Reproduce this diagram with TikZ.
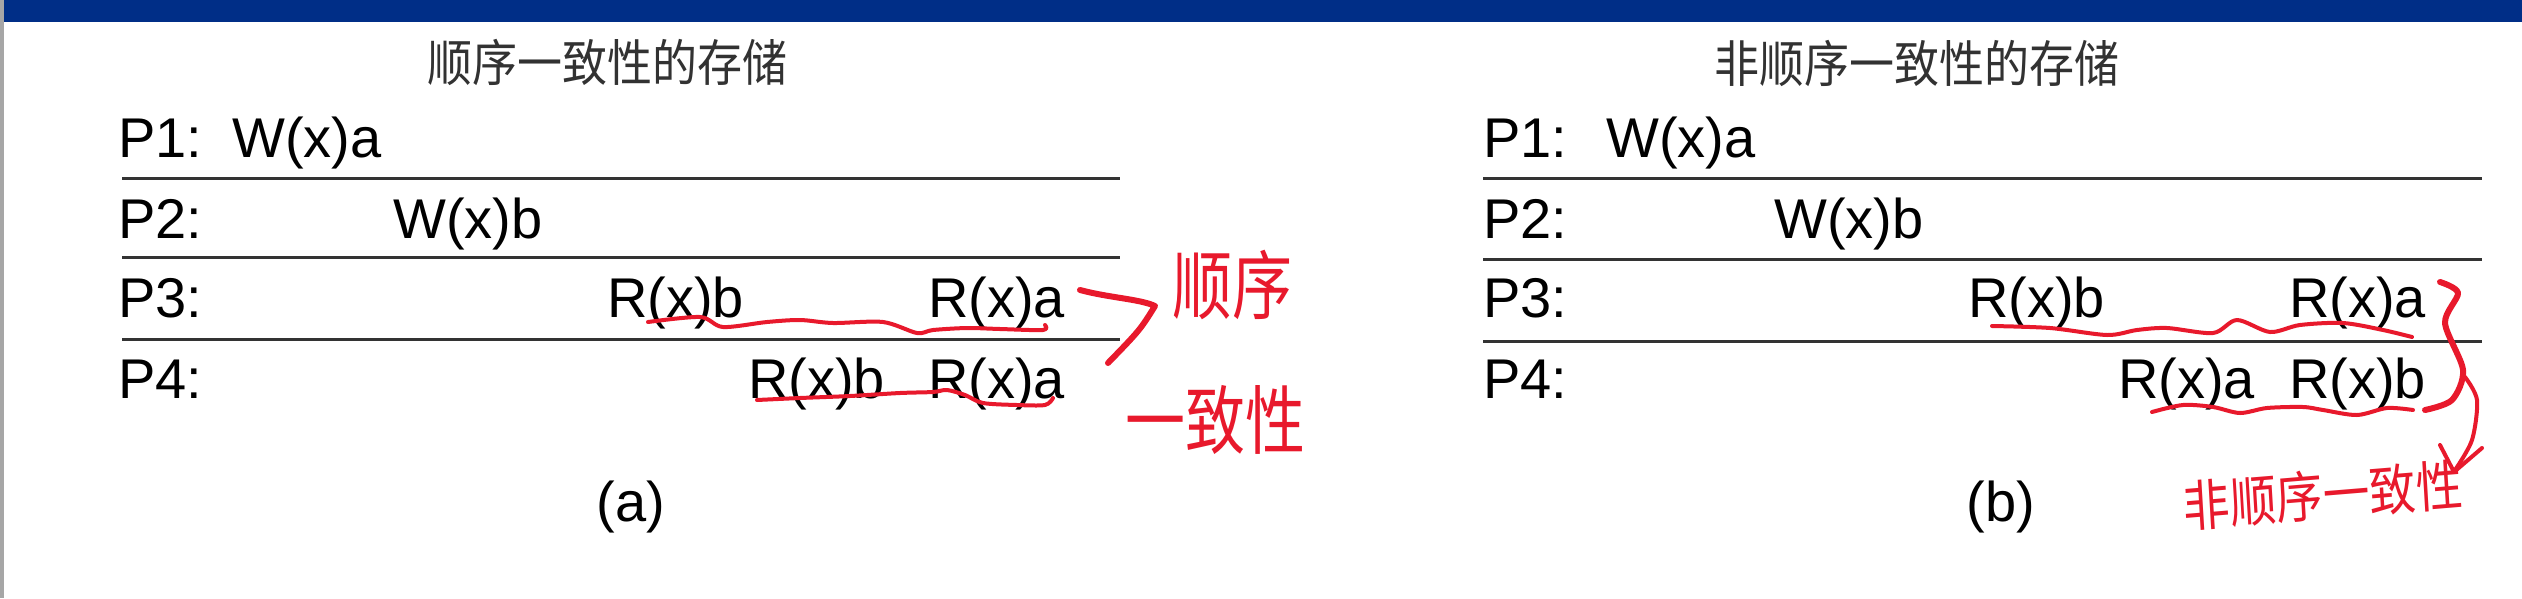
\documentclass[tikz,border=0pt]{standalone}
\usepackage{fontspec}
\setmainfont{Liberation Sans}
\newfontfamily\cjk{Noto Sans CJK SC}
\definecolor{barblue}{RGB}{0,46,135}
\definecolor{pen}{RGB}{232,25,44}
\definecolor{ink}{RGB}{50,50,50}
\begin{document}
\begin{tikzpicture}[x=1pt,y=-1pt,
  lbl/.style={inner sep=0pt,anchor=base west,font=\fontsize{56}{60}\selectfont},
  sepline/.style={line width=3pt,draw=black!80},
  titletext/.style={inner sep=0pt,text=ink,font=\cjk\fontsize{50}{56}\selectfont,xscale=0.9},
  penline/.style={draw=pen,line width=4pt,line cap=round,line join=round},
  penthick/.style={draw=pen,line width=6pt,line cap=round,line join=round},
  pentext/.style={inner sep=0pt,text=pen,font=\cjk\fontsize{75}{80}\selectfont,xscale=0.8}]
\useasboundingbox (0,0) rectangle (2522,598);
\fill[white] (0,0) rectangle (2522,598);
\fill[gray!70] (0,0) rectangle (4,598);
\fill[barblue] (4,0) rectangle (2522,22);

% ---------- panel (a) ----------
\node[titletext] (ta) at (607,62) {顺序一致性的存储};
\node[lbl] (p1a) at (118,157) {P1:};
\node[lbl] (w1a) at (232,157) {W(x)a};
\node[lbl] (p2a) at (118,238) {P2:};
\node[lbl] (w2a) at (393,238) {W(x)b};
\node[lbl] (p3a) at (118,317) {P3:};
\node[lbl] (r3ba) at (607,317) {R(x)b};
\node[lbl] (r3aa) at (928,317) {R(x)a};
\node[lbl] (p4a) at (118,398) {P4:};
\node[lbl] (r4ba) at (748,398) {R(x)b};
\node[lbl] (r4aa) at (928,398) {R(x)a};
\node[lbl,anchor=base] (capa) at (631,521) {(a)};
\draw[sepline] (122,178) -- (1120,178);
\draw[sepline] (122,257) -- (1120,257);
\draw[sepline] (122,339) -- (1120,339);

% red annotations (a)
\draw[penline] plot[smooth] coordinates {(648,322) (700,317) (723,327) (767,322) (800,320) (833,323) (883,322) (917,333) (933,330) (967,328) (1000,329) (1043,330) (1045,325)};
\draw[penline] plot[smooth] coordinates {(757,400) (800,398) (850,396) (900,393) (933,392) (947,390) (965,395) (983,403) (1017,405) (1045,405) (1053,398)};
\draw[penthick] (1080,290) .. controls (1110,298) and (1140,299) .. (1155,306) .. controls (1140,330) .. (1108,363);
\node[pentext] (sx) at (1232,285) {顺序};
\node[pentext] (yzx) at (1215,420) {一致性};

% ---------- panel (b) ----------
\node[titletext] (tb) at (1917,63) {非顺序一致性的存储};
\node[lbl] (p1b) at (1483,157) {P1:};
\node[lbl] (w1b) at (1606,157) {W(x)a};
\node[lbl] (p2b) at (1483,238) {P2:};
\node[lbl] (w2b) at (1774,238) {W(x)b};
\node[lbl] (p3b) at (1483,317) {P3:};
\node[lbl] (r3bb) at (1968,317) {R(x)b};
\node[lbl] (r3ab) at (2289,317) {R(x)a};
\node[lbl] (p4b) at (1483,398) {P4:};
\node[lbl] (r4ab) at (2118,398) {R(x)a};
\node[lbl] (r4bb) at (2289,398) {R(x)b};
\node[lbl,anchor=base] (capb) at (2001,521) {(b)};
\draw[sepline] (1483,178) -- (2482,178);
\draw[sepline] (1483,259) -- (2482,259);
\draw[sepline] (1483,341) -- (2482,341);

% red annotations (b)
\draw[penline] plot[smooth] coordinates {(1992,326) (2050,328) (2107,335) (2137,330) (2167,328) (2213,333) (2237,320) (2270,332) (2300,325) (2343,323) (2383,330) (2412,337)};
\draw[penline] plot[smooth] coordinates {(2152,412) (2183,405) (2213,407) (2240,413) (2267,408) (2303,407) (2323,410) (2357,415) (2387,408) (2413,410)};
\draw[penthick] plot[smooth] coordinates {(2440,282) (2458,293) (2445,323) (2463,370) (2452,400) (2425,410)};
\draw[penline] plot[smooth] coordinates {(2465,377) (2477,400) (2472,440) (2455,470)};
\draw[penline] (2440,445) -- (2454,472) -- (2482,448);
\node[pentext,font=\cjk\fontsize{55}{60}\selectfont,xscale=1.06,rotate=4] (fsx) at (2323,495) {非顺序一致性};
\end{tikzpicture}
\end{document}
